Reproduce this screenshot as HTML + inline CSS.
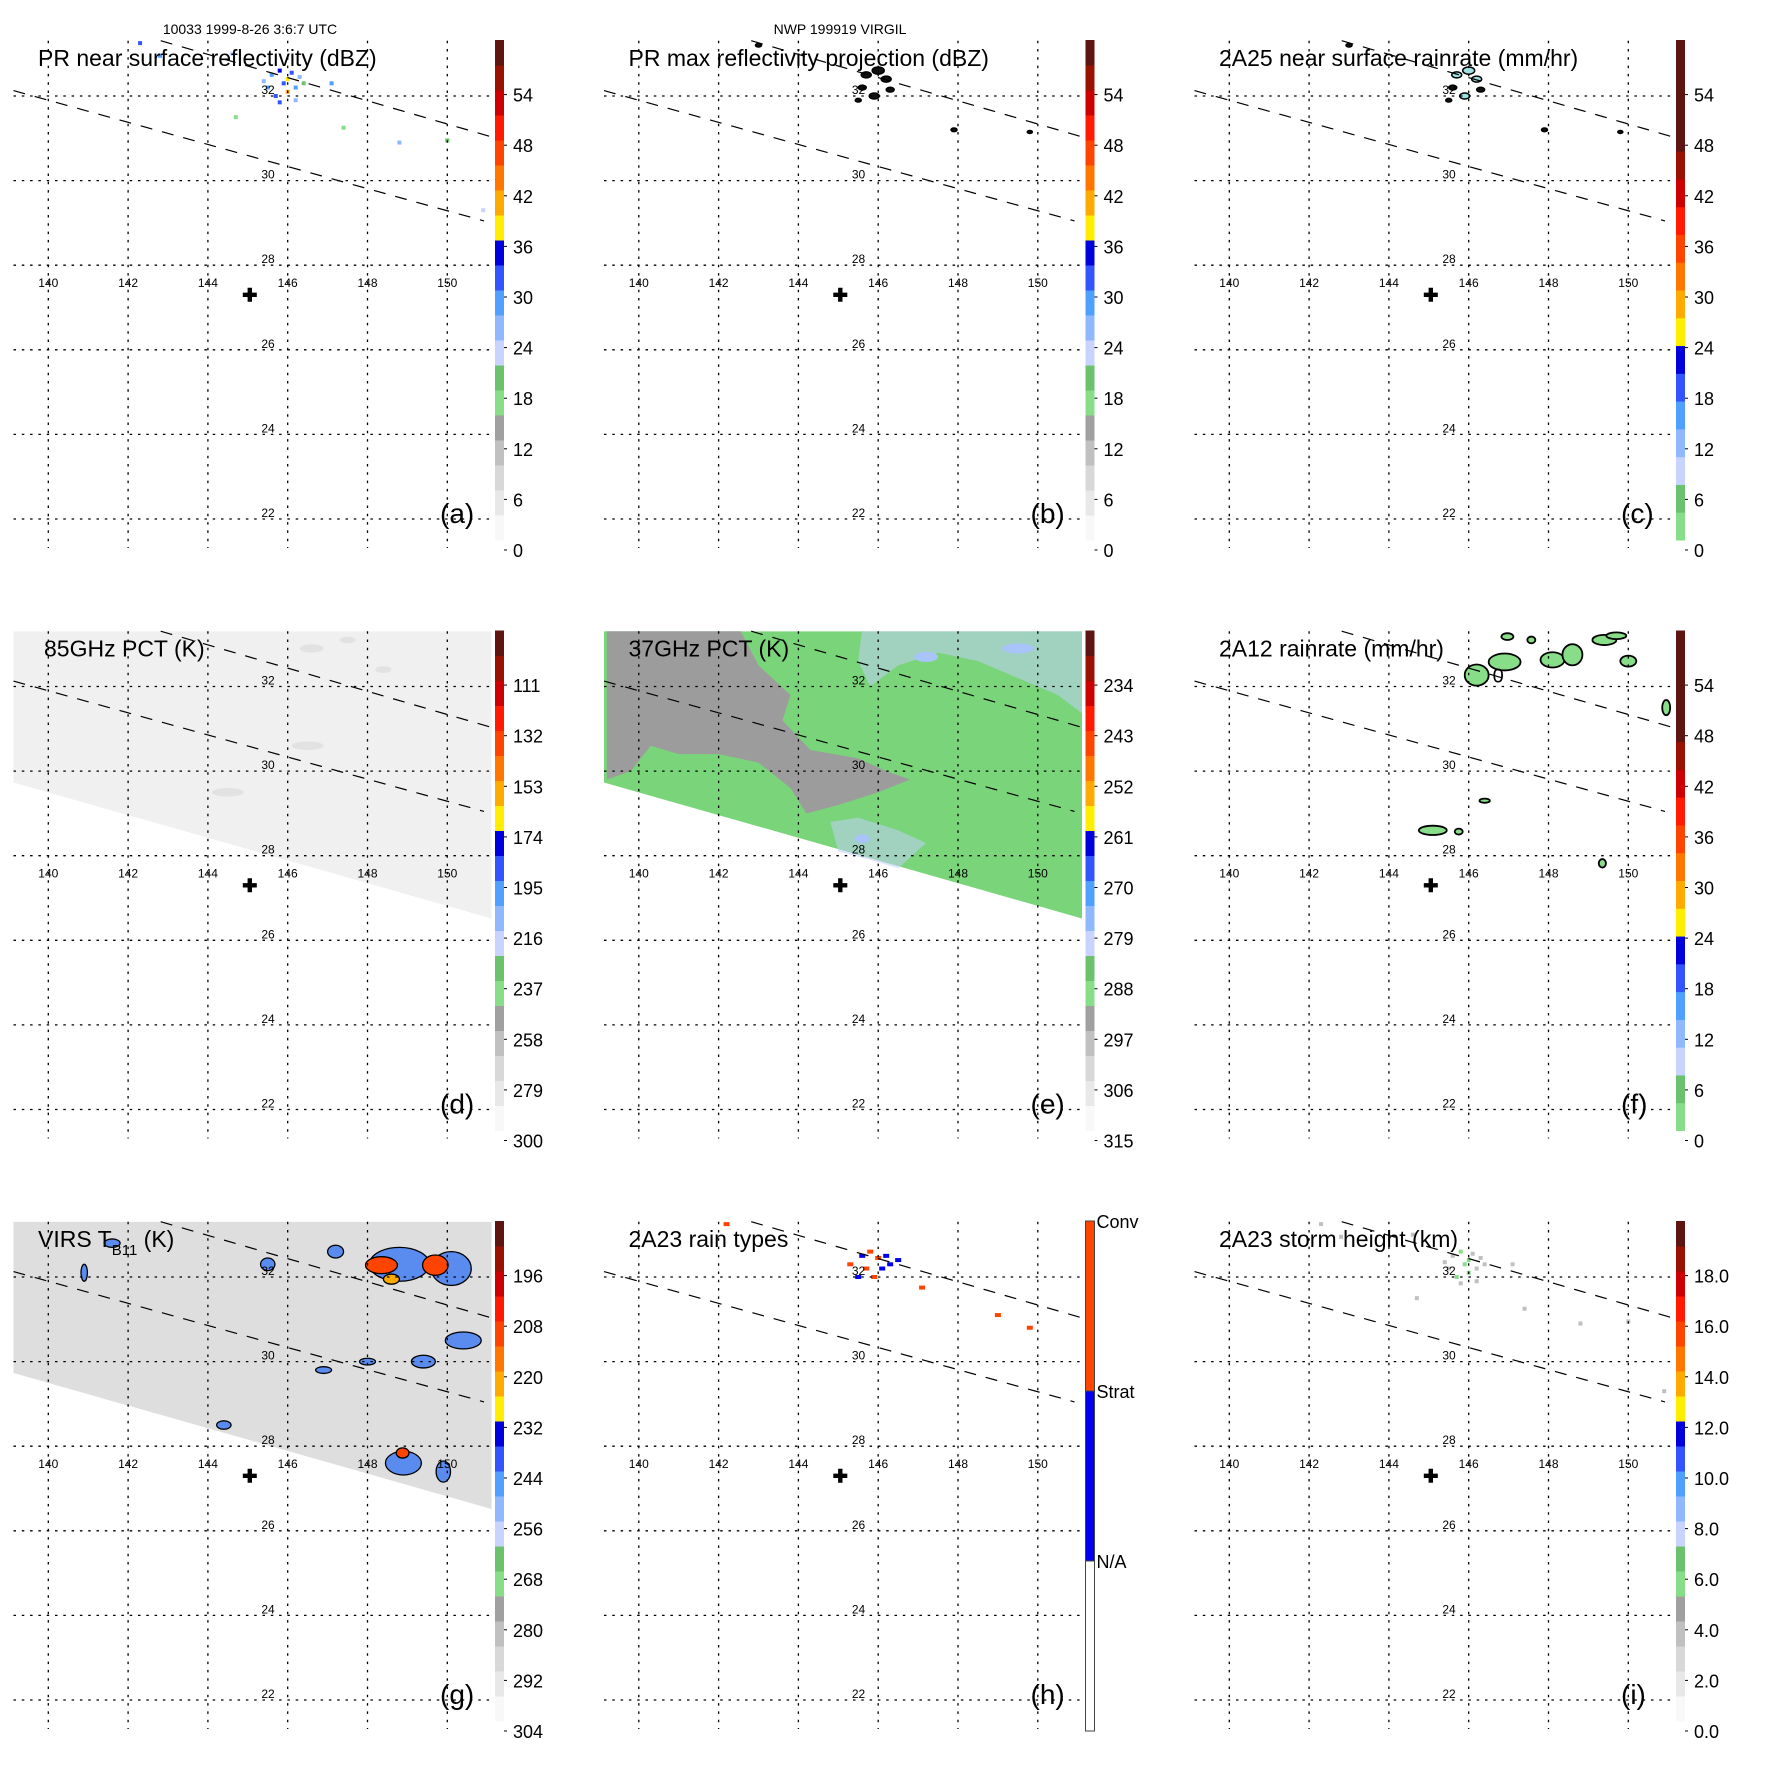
<!DOCTYPE html>
<html><head><meta charset="utf-8">
<style>
html,body{margin:0;padding:0;background:#fff;}
svg{display:block;font-family:"Liberation Sans",sans-serif;}
</style></head>
<body>
<svg id="fig" width="1771" height="1771" viewBox="0 0 1771 1771" xmlns="http://www.w3.org/2000/svg"></svg>
<script>
// ---- data ----
const lonTicks = [140,142,144,146,148,150];
const latTicks = [22,24,26,28,30,32];
const panelTitles = ["PR near surface reflectivity (dBZ)","PR max reflectivity projection (dBZ)","2A25 near surface rainrate (mm/hr)","85GHz PCT (K)","37GHz PCT (K)","2A12 rainrate (mm/hr)","VIRS T","2A23 rain types","2A23 storm height (km)"];
const panelLetters = ["(a)","(b)","(c)","(d)","(e)","(f)","(g)","(h)","(i)"];
const cbLabelsDBZ = ["0","6","12","18","24","30","36","42","48","54"];
const cbLabels85 = ["300","279","258","237","216","195","174","153","132","111"];
const cbLabels37 = ["315","306","297","288","279","270","261","252","243","234"];
const cbLabelsVirs = ["304","292","280","268","256","244","232","220","208","196"];
const cbLabelsHeight = ["0.0","2.0","4.0","6.0","8.0","10.0","12.0","14.0","16.0","18.0"];
const rainTypeLabels = ["N/A","Strat","Conv"];
const stormCenter = [145.05, 27.3];
// PR specks: [lon, lat, dBZ]
const prSpecks = [[145.6,32.5,28],[145.8,32.6,33],[146.0,32.4,38],[146.1,32.55,30],[146.3,32.45,26],[145.9,32.3,31],[146.2,32.2,27],[145.5,32.2,29],[145.7,32.0,32],[146.0,32.1,40],[146.4,32.3,20],[145.4,32.35,25],[145.8,31.85,30],[146.2,31.9,24],[147.1,32.3,29],[144.6,33.0,22],[142.3,33.25,30],[142.8,32.95,27],[148.8,30.9,26],[150.0,30.95,18],[147.4,31.25,16],[150.9,29.3,22],[144.7,31.5,17]];
// 2A25 / max projection black blobs: [lon, lat, size]
const blackBlobs = [[145.7,32.5,5],[146.0,32.6,6],[146.2,32.4,5],[145.6,32.2,4],[145.9,32.0,5],[146.3,32.15,4],[145.5,31.9,3],[147.9,31.2,3],[149.8,31.15,2.5],[143.0,33.2,3]];
// 2A12 blobs: [lon, lat, rxDeg, ryDeg]
const rainBlobs = [[146.2,32.27,0.3,0.25],[146.9,32.58,0.4,0.2],[148.1,32.63,0.3,0.18],[148.6,32.75,0.25,0.25],[149.4,33.1,0.3,0.12],[146.97,33.18,0.15,0.08],[147.57,33.1,0.1,0.08],[150.0,32.6,0.2,0.13],[150.95,31.5,0.1,0.18],[145.1,28.6,0.35,0.11],[145.75,28.57,0.1,0.07],[146.4,29.3,0.13,0.05],[149.35,27.82,0.09,0.1],[149.7,33.2,0.25,0.08]];
// VIRS cloud blobs: [lon, lat, rxDeg, ryDeg, TbK]
const virsBlobs = [[148.8,32.3,0.75,0.4,250],[150.1,32.2,0.5,0.4,250],[148.35,32.28,0.4,0.2,220],[149.7,32.28,0.32,0.24,220],[148.6,31.95,0.2,0.12,232],[150.4,30.5,0.45,0.2,250],[148.9,27.6,0.45,0.28,250],[148.88,27.84,0.16,0.12,220],[149.9,27.4,0.18,0.25,250],[145.5,32.3,0.18,0.15,250],[141.6,32.8,0.2,0.1,250],[140.9,32.1,0.08,0.2,250],[144.4,28.5,0.18,0.1,250],[146.9,29.8,0.2,0.08,250],[149.4,30.0,0.3,0.15,250],[148.0,30.0,0.2,0.08,250],[147.2,32.6,0.2,0.15,250]];
// 2A23 rain type specks: [lon, lat, type]
const typeSpecks = [[145.6,32.5,1],[145.8,32.6,2],[146.0,32.45,2],[146.2,32.5,1],[146.1,32.2,1],[145.7,32.2,2],[145.5,32.0,1],[145.9,32.0,2],[146.3,32.3,1],[145.3,32.3,2],[146.5,32.4,1],[147.1,31.75,2],[149.0,31.1,2],[149.8,30.8,2],[142.2,33.25,2]];

// ---- geometry ----
const PAL = ["#f8f8f8","#e8e8e8","#d8d8d8","#c0c0c0","#a0a0a0","#88dd88","#6cc26c","#c8d4ff","#90b8ff","#50a0ff","#3355ff","#0000dd","#ffee00","#ffaa00","#ff7700","#ff4400","#ff1a00","#cc0000","#991100","#5c1510"];
const OFF = 590.5;
const X = lon => 48.3 + (lon-140)*39.9;
const Y = lat => 519 - (lat-22)*42.3;
const NS = "http://www.w3.org/2000/svg";
const svg = document.getElementById('fig');
function mk(tag, attrs, parent){const e=document.createElementNS(NS,tag);for(const k in attrs)e.setAttribute(k,attrs[k]);(parent||svg).appendChild(e);return e;}
function txt(s, attrs, parent){const t=mk('text',attrs,parent);t.textContent=s;return t;}

const swath = "13.5,40.7 491.7,40.7 491.7,328 13.5,192";
const CBX = 495;

for(let p=0;p<9;p++){
  const c=p%3, r=Math.floor(p/3);
  const g=mk('g',{transform:`translate(${c*OFF},${r*OFF})`});
  
  
  const clipId='clip'+p;
  const cp=mk('clipPath',{id:clipId},g); mk('rect',{x:13.5,y:40.7,width:478,height:508},cp);
  const content=mk('g',{'clip-path':`url(#${clipId})`},g);
  
  

  if(p===3){
    const s=mk('polygon',{points:swath,fill:'#f0f0f0'},content);
    
    
    [[146.6,32.9,0.3,0.1],[147.5,33.1,0.2,0.08],[148.4,32.4,0.2,0.08],[144.5,29.5,0.4,0.1],[146.5,30.6,0.4,0.1]].forEach(b=>{
      const e=mk('ellipse',{cx:X(b[0]),cy:Y(b[1]),rx:b[2]*39.9,ry:b[3]*42.3,fill:'#e2e2e2'},content);
      
      
    });
  }
  if(p===4){
    const s=mk('polygon',{points:swath,fill:'#7ad47a'},content);
    
    
    const grayPoly=[[139.2,33.4],[142.5,33.4],[143,32.5],[143.8,31.8],[143.6,31.2],[144.3,30.5],[145.5,30.3],[146.2,30.0],[146.8,29.8],[146,29.5],[145,29.2],[144.2,29.0],[143.8,29.6],[143,30.2],[142,30.4],[141,30.4],[140.3,30.6],[139.8,30.0],[139.2,29.8]];
    const gp=mk('polygon',{points:grayPoly.map(q=>X(q[0])+','+Y(q[1])).join(' '),fill:'#9c9c9c'},content);
    
    
    const bl1=[[145.6,33.4],[151.2,33.4],[151.2,31.3],[150.5,31.8],[149.5,32.2],[148.5,32.6],[147.5,32.8],[146.5,32.5],[145.8,32.0],[145.5,32.6]];
    const bl2=[[144.8,28.8],[145.5,28.9],[146.5,28.6],[147.2,28.3],[146.5,27.7],[145.8,27.9],[145,28.1]];
    [bl1,bl2].forEach(pl=>{
      const e=mk('polygon',{points:pl.map(q=>X(q[0])+','+Y(q[1])).join(' '),fill:'#c0d0f8','fill-opacity':0.55},content);
      
      
    });
    [[147.2,32.7,0.3,0.12],[149.5,32.9,0.4,0.12],[145.6,28.4,0.2,0.1]].forEach(b=>{
      const e=mk('ellipse',{cx:X(b[0]),cy:Y(b[1]),rx:b[2]*39.9,ry:b[3]*42.3,fill:'#a8c4f8'},content);
      
      
    });
  }
  if(p===6){
    const s=mk('polygon',{points:swath,fill:'#dedede'},content);
    
    
    virsBlobs.forEach(b=>{
      const idx=Math.min(19,Math.max(0,Math.floor((304-b[4])/(108/20))));
      const col = b[4]>=245 ? '#5a8cf0' : PAL[idx];
      const e=mk('ellipse',{cx:X(b[0]),cy:Y(b[1]),rx:b[2]*39.9,ry:b[3]*42.3,fill:col,stroke:'#000','stroke-width':1.3},content);
      
      
    });
  }
  if(p===0||p===8){
    prSpecks.forEach(s=>{
      let idx=Math.min(19,Math.floor(s[2]/3));
      if(p===8) idx = s[2]>30?5:3;
      const e=mk('rect',{x:X(s[0])-2,y:Y(s[1])-2,width:4,height:4,fill:PAL[idx]},content);
      
      
    });
  }
  if(p===1||p===2){
    blackBlobs.forEach(b=>{
      const e=mk('ellipse',{cx:X(b[0]),cy:Y(b[1]),rx:b[2],ry:b[2]*0.6,fill:p===2&&b[2]>4.5?'#a0e0e0':'#111',stroke:'#000','stroke-width':1.5},content);
      
      
    });
  }
  if(p===5){
    rainBlobs.forEach(b=>{
      const e=mk('ellipse',{cx:X(b[0]),cy:Y(b[1]),rx:b[2]*39.9,ry:b[3]*42.3,fill:'#88dd88',stroke:'#000','stroke-width':1.8},content);
      
      
    });
    txt('0',{x:X(146.6),y:Y(32.1),'font-size':20},content);
  }
  if(p===7){
    typeSpecks.forEach(s=>{
      const e=mk('rect',{x:X(s[0])-3,y:Y(s[1])-2,width:6,height:4,fill:s[2]===2?'#ff4400':'#0000ee'},content);
      
      
    });
  }

  const d1=mk('line',{x1:160.7,y1:40.7,x2:491.7,y2:136.9,stroke:'#000','stroke-width':1.2,'stroke-dasharray':'12,10'},g);
  
  
  const d2=mk('line',{x1:13.5,y1:90.6,x2:484,y2:220.9,stroke:'#000','stroke-width':1.2,'stroke-dasharray':'12,10'},g);
  
  

  lonTicks.forEach(l=>{
    const e=mk('line',{x1:X(l),y1:40.7,x2:X(l),y2:548,stroke:'#000','stroke-width':1.3,'stroke-dasharray':'2.5,5.8'},g);
    
    
    const t=txt(String(l),{x:X(l),y:287,'font-size':12,'text-anchor':'middle'},g);
    
    
  });
  latTicks.forEach(l=>{
    const e=mk('line',{x1:13.5,y1:Y(l),x2:490,y2:Y(l),stroke:'#000','stroke-width':1.3,'stroke-dasharray':'2.5,5.8'},g);
    
    
    const t=txt(String(l),{x:268,y:Y(l)-2,'font-size':12,'text-anchor':'middle'},g);
    
    
  });

  const cx=X(stormCenter[0]), cy=Y(stormCenter[1]);
  const cr=mk('path',{d:`M${cx-7},${cy-2.2}h14v4.4h-14z M${cx-2.2},${cy-7}h4.4v14h-4.4z`,fill:'#000'},g);
  
  

  const tt=txt(panelTitles[p],{x:p===3?44:38,y:66,'font-size':23},g);
  
  
  if(p===6){
    const sub=mk('tspan',{dy:8,'font-size':15},tt); sub.textContent='B11';
    const rest=mk('tspan',{dy:-8,'font-size':23},tt); rest.textContent=' (K)';
  }
  const pl=txt(panelLetters[p],{x:440,y:523,'font-size':28},g);
  
  

  const cb=mk('g',{},g);
  
  
  if(p===7){
    const segs=[['#ffffff',0],['#0000ee',1],['#ff4400',2]];
    const h=510/3;
    segs.forEach(s=>{
      const e=mk('rect',{x:CBX,y:550-(s[1]+1)*h,width:9,height:h,fill:s[0],stroke:'#444','stroke-width':1},cb);
      
      
    });
    rainTypeLabels.forEach((lab,i)=>{
      const t=txt(lab,{x:CBX+11,y:550-(i+1)*h+7,'font-size':18},cb);
      
      
    });
  } else {
    let pal = PAL;
    if(p===2||p===5) pal = PAL.slice(5).concat(['#5c1510','#5c1510','#5c1510']);
    const n=pal.length, h=500/n;
    for(let i=0;i<n;i++){
      const e=mk('rect',{x:CBX,y:540-(i+1)*h,width:9,height:h+0.5,fill:pal[i]},cb);
      
      
    }
    const labs = p===3?cbLabels85 : p===4?cbLabels37 : p===6?cbLabelsVirs : p===8?cbLabelsHeight : cbLabelsDBZ;
    labs.forEach((lab,i)=>{
      const ty=550-i*50.6;
      mk('line',{x1:CBX+9,y1:ty,x2:CBX+12,y2:ty,stroke:'#000','stroke-width':1},cb);
      const t=txt(lab,{x:CBX+18,y:ty+7,'font-size':18},cb);
      
      
    });
  }
}
const h1=txt('10033 1999-8-26 3:6:7 UTC',{x:250,y:34,'font-size':14,'text-anchor':'middle'});


const h2=txt('NWP 199919 VIRGIL',{x:840,y:34,'font-size':14,'text-anchor':'middle'});


</script>
</body></html>
